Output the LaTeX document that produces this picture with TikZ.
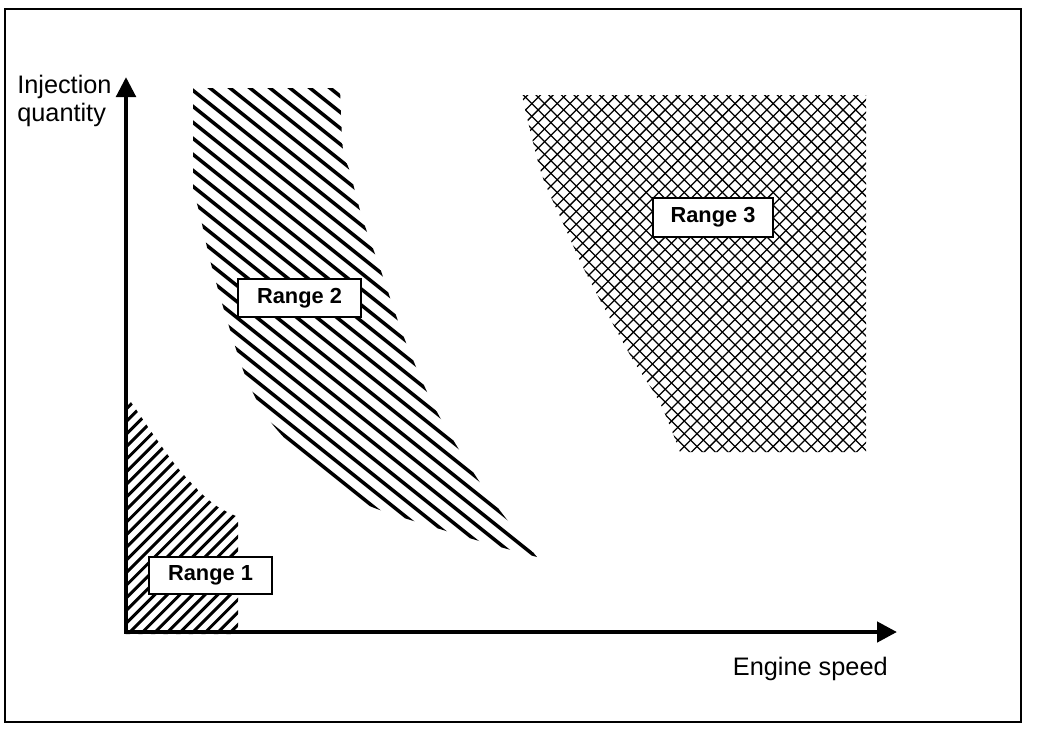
\documentclass[tikz,border=0pt]{standalone}
\usepackage{fontspec}
\setmainfont{Liberation Sans}
\usetikzlibrary{arrows.meta}

\begin{document}
\begin{tikzpicture}[
    x=0.025cm, y=-0.025cm,
    axis/.style={line width=3.2pt,
      {Triangle[length=0.5cm, width=0.48cm]}-{Triangle[length=0.5cm, width=0.5cm]}},
    rangebox/.style={
      rectangle, draw=black, line width=1.4pt, fill=white,
      minimum width=3.075cm, minimum height=0.93cm, inner sep=0pt,
      font=\fontsize{15.5}{18}\selectfont\bfseries
    },
    axislabel/.style={inner sep=0pt, align=left, font=\fontsize{18}{19.5}\selectfont},
    hatch/.style={line width=2.1pt},
    widehatch/.style={line width=2.5pt},
    cross/.style={line width=0.9pt}
  ]
  \useasboundingbox (0,0) rectangle (1056,732);
  \draw[line width=1.4pt] (5,9) rectangle (1021,722);

  % range 1
  \begin{scope}
    \clip (124,634) -- plot[smooth] coordinates {(124,393) (133,405) (155,437) (177,467) (200,492) (218,507) (238,517)} -- (238,634) -- cycle;
    \foreach \a in {-130,-117.4,...,245}
      \draw[hatch] (\a,640) -- ++(400,-400);
  \end{scope}

  % range 2
  \begin{scope}
    \clip (193,88) -- (340,88) -- plot[smooth] coordinates {(340,88) (343,150) (350,172) (362,217) (380,268) (405,340) (437,412) (487,493) (537,557)}
      -- plot[smooth] coordinates {(537,557) (493,545) (443,530) (372,507) (330,483) (273,425) (247,380) (227,320) (210,260) (200,215) (193,190)} -- cycle;
    \foreach \a in {-420,-400,...,350}
      \draw[widehatch] (\a,80) -- ++(600,480);
  \end{scope}

  % range 3
  \begin{scope}
    \clip (522,95) -- (866,95) -- (866,452) -- (680,452)
      -- plot[smooth] coordinates {(680,452) (660,403) (633,360) (607,313) (583,267) (563,223) (543,178) (530,130) (522,95)} -- cycle;
    \foreach \a in {150,162.7,...,875} {
      \draw[cross] (\a,90) -- ++(400,400);
      \draw[cross] (\a,460) -- ++(400,-400);
    }
  \end{scope}

  \coordinate (origin) at (126,632);
  \coordinate (ytip) at (126,77);
  \coordinate (xtip) at (897,632);
  \draw[axis] (ytip) -- (origin) -- (xtip);

  \node[axislabel, anchor=north west] (ylabel) at (17,75) {Injection\\quantity};
  \node[axislabel, anchor=base east] (xlabel) at (888,675) {Engine speed};

  \node[rangebox] (range1) at (210.5,575.5) {Range 1};
  \node[rangebox, minimum height=0.95cm] (range2) at (299.5,298) {Range 2};
  \node[rangebox, minimum width=3cm, minimum height=0.97cm] (range3) at (713,217.5) {Range 3};
\end{tikzpicture}
\end{document}
